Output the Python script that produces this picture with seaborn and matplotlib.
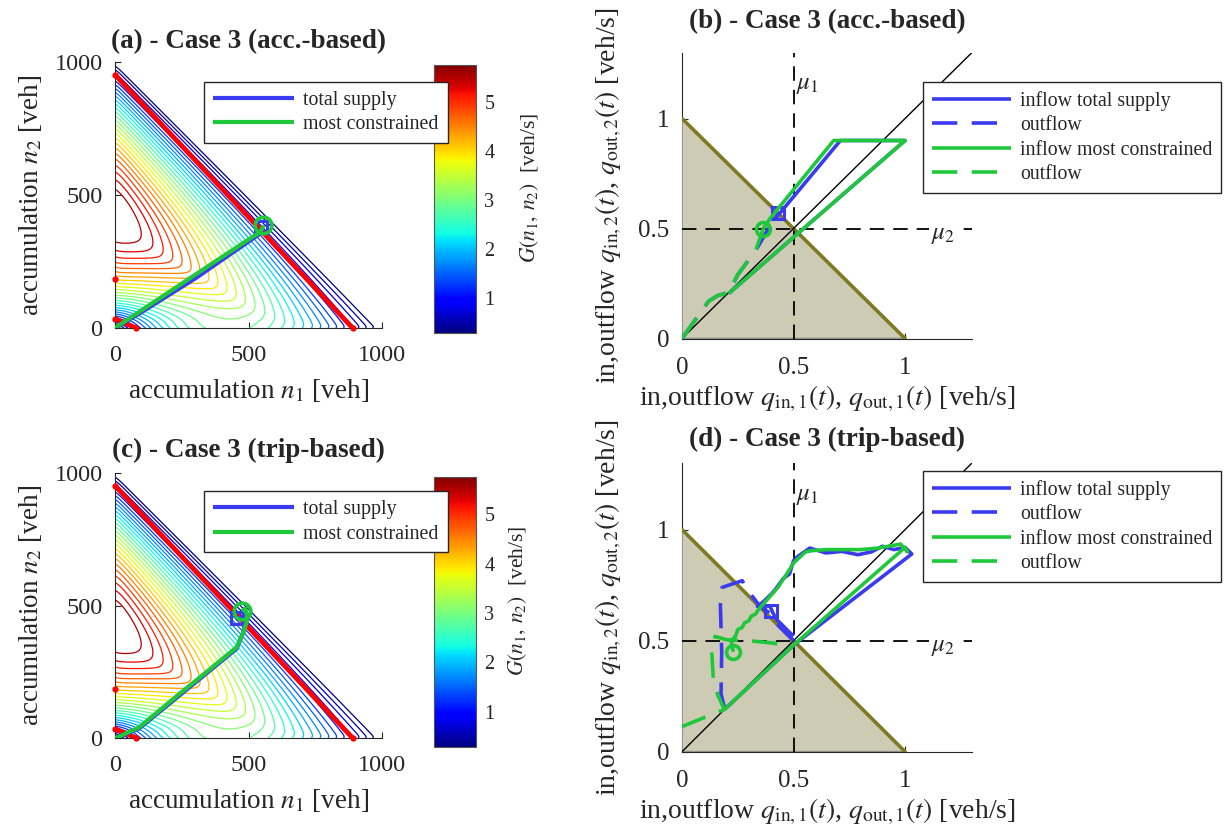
import numpy as np
import matplotlib
matplotlib.use("Agg")
import matplotlib.pyplot as plt
import matplotlib.colors as mcolors
import matplotlib.cm as cm
import seaborn as sns

# ---- data ----
# supply surface G(n1, n2): MFD parameters
n_crit = 420.0
n_jam = 1005.0
g_max = 5.75
ratio_1 = 0.52
n2_fade = 250.0
levels = np.arange(0.3, 5.6, 0.2)

# red supply boundaries (n1, n2)
red_hi_n1 = [0, 890]
red_hi_n2 = [952, 0]
red_lo_n1 = [0, 79]
red_lo_n2 = [35, 0]
red_dot_n1 = [0, 890, 0, 79, 0]
red_dot_n2 = [952, 0, 35, 0, 185]

# (a) accumulation trajectories, acc.-based
a_sup_n1 = [0, 100, 300, 519, 537, 550, 548]
a_sup_n2 = [0, 60, 186, 338, 350, 366, 380]
a_con_n1 = [0, 100, 300, 519, 535, 548, 556]
a_con_n2 = [0, 67, 200, 345, 355, 368, 386]

# (c) accumulation trajectories, trip-based
c_sup_n1 = [0, 10, 90, 231, 356, 456, 481, 490, 470, 456]
c_sup_n2 = [0, 2, 36, 152, 255, 338, 400, 440, 455, 451]
c_con_n1 = [0, 10, 90, 231, 356, 456, 481, 494, 494, 488, 475]
c_con_n2 = [0, 3, 40, 158, 260, 343, 400, 440, 465, 488, 479]

# (b) flows, acc.-based
b_in_sup_q1 = [0.21, 1.0, 0.71, 0.42, 0.432]
b_in_sup_q2 = [0.205, 0.9, 0.9, 0.547, 0.569]
b_out_sup_q1 = [0, 0.07, 0.12, 0.16, 0.21, 0.25, 0.33, 0.40, 0.432]
b_out_sup_q2 = [0, 0.10, 0.17, 0.195, 0.21, 0.29, 0.40, 0.52, 0.569]
b_in_con_q1 = [0.21, 1.0, 0.68, 0.395, 0.365]
b_in_con_q2 = [0.205, 0.9, 0.9, 0.546, 0.50]
b_out_con_q1 = [0, 0.07, 0.12, 0.16, 0.21, 0.25, 0.33, 0.365]
b_out_con_q2 = [0, 0.10, 0.17, 0.195, 0.21, 0.29, 0.40, 0.50]

# (d) flows, trip-based
d_in_sup_q1 = [0.19, 0.5, 1.03, 1.0, 0.95, 0.898, 0.85, 0.789, 0.717, 0.645, 0.573,
               0.52, 0.50, 0.482, 0.454, 0.428, 0.41, 0.37, 0.338, 0.36, 0.395,
               0.41, 0.425, 0.45, 0.47, 0.5]
d_in_sup_q2 = [0.19, 0.48, 0.89, 0.92, 0.91, 0.925, 0.90, 0.887, 0.902, 0.895, 0.917,
               0.88, 0.86, 0.80, 0.78, 0.744, 0.72, 0.68, 0.654, 0.66, 0.654,
               0.62, 0.594, 0.57, 0.549, 0.52]
d_out_sup_q1 = [0.19, 0.175, 0.178, 0.172, 0.18, 0.27, 0.30, 0.35, 0.40, 0.43, 0.47, 0.50]
d_out_sup_q2 = [0.20, 0.26, 0.45, 0.66, 0.74, 0.77, 0.72, 0.654, 0.62, 0.57, 0.53, 0.50]
d_in_con_q1 = [0.19, 0.5, 1.0, 1.01, 0.98, 0.88, 0.80, 0.717, 0.645, 0.58, 0.554, 0.50,
               0.482, 0.43, 0.342, 0.33, 0.31, 0.30, 0.28, 0.27, 0.25, 0.24, 0.22, 0.23]
d_in_con_q2 = [0.19, 0.48, 0.92, 0.90, 0.935, 0.917, 0.91, 0.91, 0.91, 0.905, 0.90, 0.85,
               0.82, 0.74, 0.639, 0.62, 0.61, 0.59, 0.58, 0.56, 0.55, 0.52, 0.50, 0.45]
d_out_con_q1 = [0.0, 0.11, 0.19, 0.16, 0.14, 0.133, 0.148, 0.2, 0.3, 0.4, 0.5]
d_out_con_q2 = [0.113, 0.158, 0.19, 0.256, 0.338, 0.451, 0.519, 0.504, 0.50, 0.49, 0.474]

# end markers (x, y)
a_circle = (556, 386)
a_square = (548, 380)
c_circle = (475, 479)
c_square = (456, 451)
b_circle = (0.365, 0.50)
b_square = (0.432, 0.569)
d_circle = (0.23, 0.451)
d_square = (0.398, 0.635)

BLUE = "#3a3af0"
GREEN = "#1ec83a"
OLIVE = "#7f7a22"
FILL = "#cdcbb4"

sns.set_style("ticks")
plt.rcParams["font.family"] = ["Liberation Serif", "DejaVu Serif"]
plt.rcParams["mathtext.fontset"] = "stix"

W, H = 1229, 832
fig = plt.figure(figsize=(W / 100, H / 100), dpi=100)


def px_axes(l, t, r, b):
    return fig.add_axes([l / W, 1 - b / H, (r - l) / W, (b - t) / H])


def traj(ax, x, y, color, dashed=False, lw=2.6, z=4):
    sns.lineplot(x=x, y=y, sort=False, estimator=None, color=color, lw=lw, ax=ax, zorder=z)
    line = ax.lines[-1]
    if dashed:
        line.set_dashes((7, 4))
    line.set_solid_capstyle("butt")
    return line


def make_legend(ax, handles, labels, anchor, hlen):
    leg = ax.legend(handles, labels, loc="upper left", bbox_to_anchor=anchor, borderaxespad=0,
                    fontsize=14.3, frameon=True, fancybox=False, framealpha=1,
                    edgecolor="#262626", handlelength=hlen, borderpad=0.45,
                    labelspacing=0.28, handletextpad=0.45)
    leg.set_zorder(20)
    leg.get_frame().set_linewidth(1.0)
    return leg


# supply surface: congested part follows the total accumulation,
# free-flow part follows n2 with a fading n1 contribution
A = np.array([[n_jam ** 2, n_jam, 1], [3 * n_crit ** 2, 2 * n_crit, 1], [n_crit ** 2, n_crit, 1]])
ca, cb, cc = np.linalg.solve(A, [0, 0, g_max / n_crit])


def mfd(n):
    return n * (ca * n ** 2 + cb * n + cc)


grid = np.linspace(0, 1000, 601)
N1, N2 = np.meshgrid(grid, grid)
NT = N1 + N2
X1 = N1 / np.where(NT > 0, NT, 1)
upper = mfd(NT) * (1 - (1 - ratio_1) * X1 ** 1.5)
lower = mfd(N2) + ratio_1 * mfd(N1) * X1 * np.clip(1 - N2 / n2_fade, 0, None) ** 2
kap = 10.0
G = -np.log((np.exp(-kap * upper) + np.exp(-kap * lower)) / 2) / kap
G[NT > n_jam] = np.nan
norm = mcolors.Normalize(vmin=0.29, vmax=5.75)


def acc_panel(ax, cax, title, sup, con, circ, sq, title_y, leg_y):
    ax.set_zorder(5)
    ax.contour(N1, N2, G, levels=levels, cmap="jet", norm=norm, linewidths=0.9, zorder=1)
    ax.plot(red_hi_n1, red_hi_n2, color="red", lw=3.5, zorder=3, solid_capstyle="round")
    ax.plot(red_lo_n1, red_lo_n2, color="red", lw=3.5, zorder=3, solid_capstyle="round")
    ax.plot(red_dot_n1, red_dot_n2, "o", color="red", ms=3.5, zorder=3, clip_on=False)
    h1 = traj(ax, sup[0], sup[1], BLUE, lw=3.0, z=4)
    h2 = traj(ax, con[0], con[1], GREEN, lw=3.0, z=5)
    ax.plot(*sq, "s", mfc="none", mec=BLUE, mew=2.2, ms=8, zorder=4)
    ax.plot(*circ, "o", mfc="none", mec=GREEN, mew=2.6, ms=12, zorder=5)
    ax.set_xlim(0, 1000)
    ax.set_ylim(0, 1000)
    ax.set_xticks([0, 500, 1000])
    ax.set_yticks([0, 500, 1000])
    ax.tick_params(direction="in", length=4, labelsize=17.5, pad=9)
    ax.tick_params(axis="x", pad=12)
    sns.despine(ax=ax)
    ax.set_xlabel(r"accumulation $n_1$ [veh]", fontsize=19.5)
    ax.set_ylabel(r"accumulation $n_2$ [veh]", fontsize=19.5)
    ax.xaxis.label.set_va("center")
    ax.yaxis.label.set_va("center")
    ax.xaxis.set_label_coords(0.5, -0.235)
    ax.yaxis.set_label_coords(-0.318, 0.5)
    ax.set_title(title, fontsize=19.5, fontweight="bold", y=title_y, va="center", pad=0)
    make_legend(ax, [h1, h2], ["total supply", "most constrained"], (0.333, leg_y), 4.1)
    cb = fig.colorbar(cm.ScalarMappable(norm=norm, cmap="jet"), cax=cax)
    cb.set_ticks([1, 2, 3, 4, 5])
    cax.tick_params(direction="in", length=4, labelsize=14.5, pad=6, color="#262626")
    cb.outline.set_edgecolor("#555555")
    cb.set_label(r"$G(n_1,\, n_2)$  [veh/s]", fontsize=15.5)
    cax.yaxis.label.set_va("center")
    cax.yaxis.set_label_coords(2.0, 0.54)


def flow_panel(ax, title, series, circ, sq, title_y, leg_y):
    ax.fill([0, 1, 0], [0, 0, 1], facecolor=FILL, edgecolor="#8c8c8c", lw=1.2, zorder=3)
    ax.plot([0, 1], [1, 0], color=OLIVE, lw=2.6, zorder=3)
    ax.plot([0, 1.3], [0, 1.3], color="black", lw=1.0, zorder=3)
    ax.plot([0.5, 0.5], [0, 1.3], color="black", lw=1.3, dashes=(8, 5), zorder=3)
    ax.plot([0, 1.3], [0.5, 0.5], color="black", lw=1.3, dashes=(8, 5), zorder=3)
    ax.text(0.51, 1.15, r"$\mu_1$", fontsize=18, ha="left", va="center")
    ax.text(1.115, 0.47, r"$\mu_2$", fontsize=18, ha="left", va="center",
            bbox=dict(facecolor="white", edgecolor="none", pad=1), zorder=4)
    handles = []
    for (x, y, color, dashed), z in zip(series, [4, 4, 5, 5]):
        handles.append(traj(ax, x, y, color, dashed=dashed, lw=2.6, z=z))
    ax.plot(*sq, "s", mfc="none", mec=BLUE, mew=2.2, ms=8, zorder=4)
    ax.plot(*circ, "o", mfc="none", mec=GREEN, mew=2.6, ms=10, zorder=5)
    ax.set_xlim(0, 1.3)
    ax.set_ylim(0, 1.3)
    ax.set_xticks([0, 0.5, 1])
    ax.set_yticks([0, 0.5, 1])
    ax.set_xticklabels(["0", "0.5", "1"])
    ax.set_yticklabels(["0", "0.5", "1"])
    ax.tick_params(direction="in", length=4, labelsize=18, pad=9)
    ax.tick_params(axis="x", pad=13)
    sns.despine(ax=ax)
    ax.set_xlabel(r"in,outflow $q_{\mathrm{in},1}(t)$, $q_{\mathrm{out},1}(t)$ [veh/s]", fontsize=20)
    ax.set_ylabel(r"in,outflow $q_{\mathrm{in},2}(t)$, $q_{\mathrm{out},2}(t)$ [veh/s]", fontsize=20)
    ax.xaxis.label.set_va("center")
    ax.yaxis.label.set_va("center")
    ax.xaxis.set_label_coords(0.5, -0.21)
    ax.yaxis.set_label_coords(-0.252, 0.5)
    ax.set_title(title, fontsize=19.5, fontweight="bold", y=title_y, va="center", pad=0)
    make_legend(ax, handles, ["inflow total supply", "outflow", "inflow most constrained", "outflow"],
                (0.83, leg_y), 4.0)


ax_a = px_axes(115, 62, 382, 328)
cax_a = px_axes(434, 65, 476, 333)
ax_c = px_axes(115, 473, 382, 738)
cax_c = px_axes(434, 477, 476, 747)
ax_b = px_axes(682, 52.5, 972, 338.5)
ax_d = px_axes(682, 463, 972, 751.7)

acc_panel(ax_a, cax_a, "(a) - Case 3 (acc.-based)", (a_sup_n1, a_sup_n2), (a_con_n1, a_con_n2),
          a_circle, a_square, 1.075, 0.925)
acc_panel(ax_c, cax_c, "(c) - Case 3 (trip-based)", (c_sup_n1, c_sup_n2), (c_con_n1, c_con_n2),
          c_circle, c_square, 1.087, 0.932)

flow_panel(ax_b, "(b) - Case 3 (acc.-based)",
           [(b_in_sup_q1, b_in_sup_q2, BLUE, False), (b_out_sup_q1, b_out_sup_q2, BLUE, True),
            (b_in_con_q1, b_in_con_q2, GREEN, False), (b_out_con_q1, b_out_con_q2, GREEN, True)],
           b_circle, b_square, 1.107, 0.898)
flow_panel(ax_d, "(d) - Case 3 (trip-based)",
           [(d_in_sup_q1, d_in_sup_q2, BLUE, False), (d_out_sup_q1, d_out_sup_q2, BLUE, True),
            (d_in_con_q1, d_in_con_q2, GREEN, False), (d_out_con_q1, d_out_con_q2, GREEN, True)],
           d_circle, d_square, 1.08, 0.973)

fig.savefig("out.png", dpi=100)
